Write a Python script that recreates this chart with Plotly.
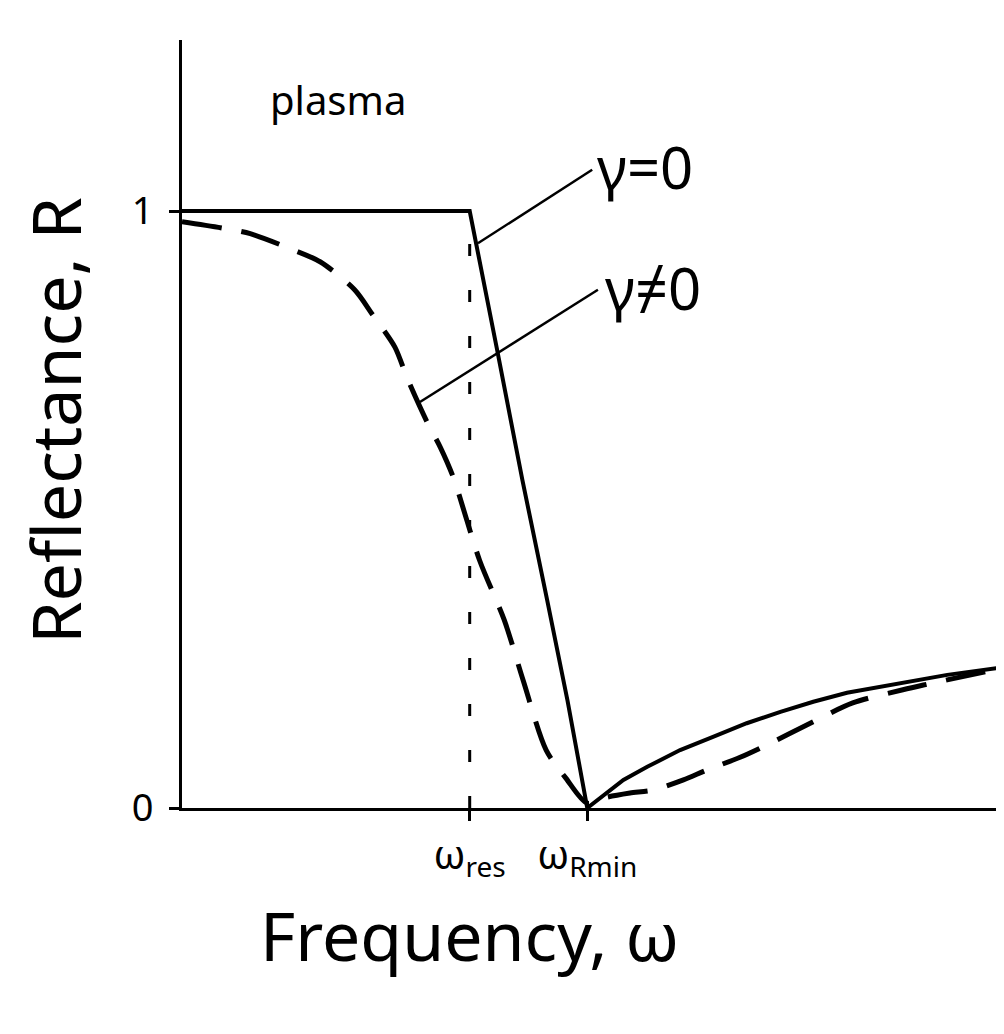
import plotly.graph_objects as go

# ---- data (frequency in arbitrary units, reflectance R) ----
omega_res = 3.5
omega_rmin = 4.93

omega_gamma0 = [0, 3.5, 3.83, 4.14, 4.44, 4.69, 4.93, 5.37, 5.66, 6.06, 6.46, 6.87,
                7.28, 7.68, 8.09, 8.49, 8.89, 9.31, 10.0]
R_gamma0 = [1.0, 1.0, 0.77, 0.55, 0.35, 0.18, 0.0, 0.047, 0.069, 0.097, 0.119, 0.142,
            0.161, 0.178, 0.193, 0.203, 0.214, 0.223, 0.236]

omega_gamma1 = [0, 0.55, 0.83, 1.35, 1.68, 2.1, 2.32, 2.59, 2.74, 2.98, 3.14, 3.3,
                3.62, 3.92, 4.15, 4.43, 4.67, 4.93, 5.17, 5.45, 5.73, 6.1, 6.39,
                6.79, 7.12, 7.6, 8.16, 8.77, 9.02, 10.0]
R_gamma1 = [0.982, 0.97, 0.962, 0.935, 0.915, 0.868, 0.826, 0.772, 0.72, 0.647,
            0.605, 0.554, 0.415, 0.315, 0.214, 0.097, 0.05, 0.008, 0.018, 0.025,
            0.03, 0.047, 0.064, 0.085, 0.106, 0.139, 0.176, 0.198, 0.206, 0.235]

res_line_omega = [omega_res, omega_res]
res_line_R = [0, 1]

leader0_omega = [3.6, 4.99]
leader0_R = [0.946, 1.069]
leader1_omega = [2.895, 5.06]
leader1_R = [0.68, 0.868]

tick_vals_x = [omega_res, omega_rmin]
tick_text_x = ["ω<sub>res</sub>", "ω<sub>Rmin</sub>"]
tick_vals_y = [0, 1]
tick_text_y = ["0", "1"]

FONT = "Noto Sans"

fig = go.Figure()
fig.add_trace(go.Scatter(x=res_line_omega, y=res_line_R, mode="lines",
                         line=dict(color="black", width=3, dash="12px,34px"),
                         showlegend=False, hoverinfo="skip"))
fig.add_trace(go.Scatter(x=omega_gamma1, y=R_gamma1, mode="lines",
                         line=dict(color="black", width=5, dash="40px,20px",
                                   shape="spline", smoothing=0.8),
                         showlegend=False, name="γ≠0"))
fig.add_trace(go.Scatter(x=omega_gamma0, y=R_gamma0, mode="lines",
                         line=dict(color="black", width=4),
                         showlegend=False, name="γ=0"))
fig.add_trace(go.Scatter(x=leader0_omega, y=leader0_R, mode="lines",
                         line=dict(color="black", width=2.5),
                         showlegend=False, hoverinfo="skip"))
fig.add_trace(go.Scatter(x=leader1_omega, y=leader1_R, mode="lines",
                         line=dict(color="black", width=2.5),
                         showlegend=False, hoverinfo="skip"))

annotations = [
    dict(x=1.9, y=1.186, xref="x", yref="y", text="plasma", showarrow=False,
         xanchor="center", yanchor="middle",
         font=dict(size=40, family=FONT, color="black")),
    dict(x=5.03, y=1.075, xref="x", yref="y", text="γ=0", showarrow=False,
         xanchor="left", yanchor="middle",
         font=dict(size=58, family=FONT, color="black")),
    dict(x=5.12, y=0.872, xref="x", yref="y", text="γ≠0", showarrow=False,
         xanchor="left", yanchor="middle",
         font=dict(size=58, family=FONT, color="black")),
    dict(x=-0.155, y=0.505, xref="paper", yref="paper", text="Reflectance, R",
         textangle=-90, showarrow=False, xanchor="center", yanchor="middle",
         font=dict(size=68, family=FONT, color="black")),
    dict(x=0.35, y=-0.165, xref="paper", yref="paper", text="Frequency, ω",
         showarrow=False, xanchor="center", yanchor="middle",
         font=dict(size=68, family=FONT, color="black")),
]

fig.update_layout(
    width=996, height=1026,
    margin=dict(l=174, r=0, t=32, b=226),
    paper_bgcolor="white", plot_bgcolor="white",
    annotations=annotations,
    xaxis=dict(range=[0, 10], showgrid=False, zeroline=False, showline=True,
               linecolor="black", linewidth=3, ticks="outside", ticklen=10,
               tickwidth=3, tickcolor="black", tickvals=tick_vals_x,
               ticktext=tick_text_x, ticklabelstandoff=0,
               tickfont=dict(size=40, family=FONT, color="black")),
    yaxis=dict(range=[0, 768 / 597], showgrid=False, zeroline=False, showline=True,
               linecolor="black", linewidth=3, ticks="outside", ticklen=10,
               tickwidth=3, tickcolor="black", tickvals=tick_vals_y,
               ticktext=tick_text_y, ticklabelstandoff=8,
               tickfont=dict(size=38, family=FONT, color="black")),
)

fig.write_html("out.html")
